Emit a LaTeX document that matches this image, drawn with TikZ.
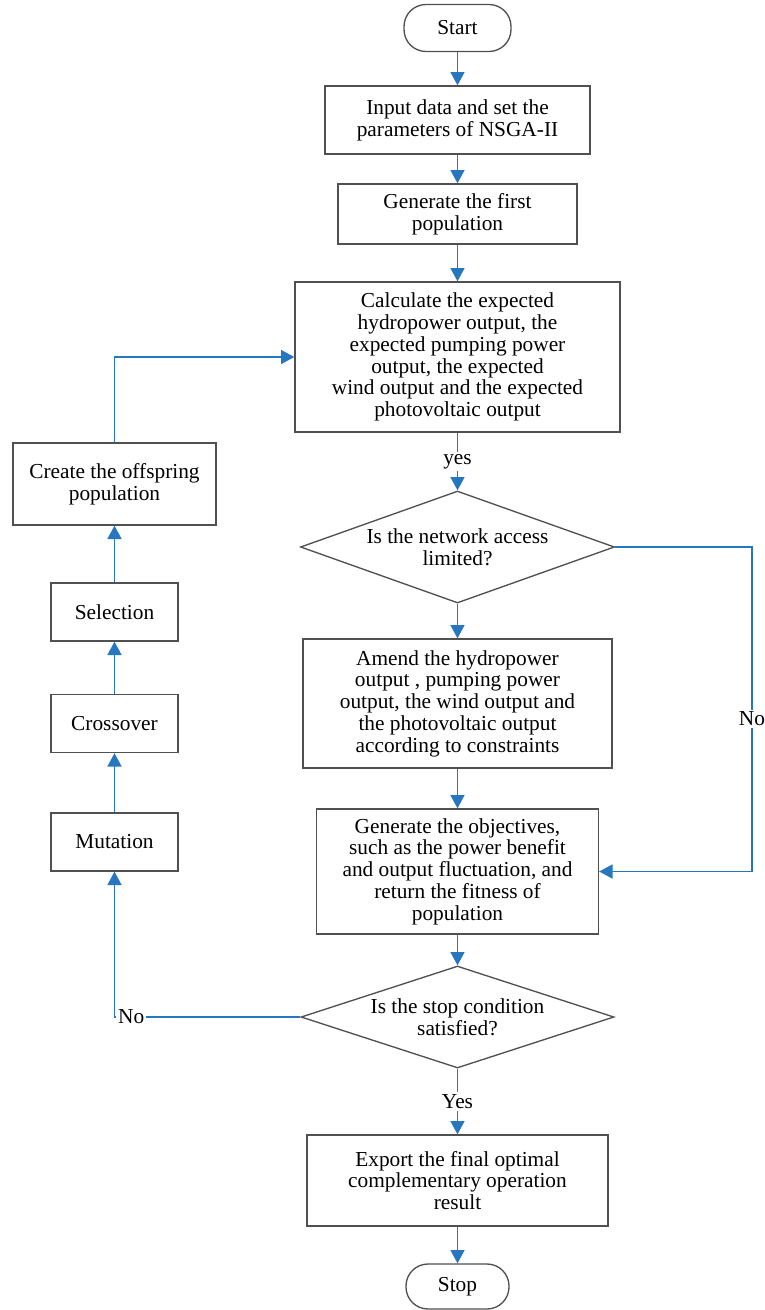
\documentclass[tikz,border=0pt]{standalone}
\usepackage{fontspec}
\setmainfont{Liberation Serif}
\usetikzlibrary{shapes.geometric,arrows.meta}
\definecolor{flowblue}{RGB}{38,118,192}
\definecolor{boxgray}{RGB}{80,80,80}

\begin{document}
\begin{tikzpicture}[x=0.75pt,y=0.75pt,yscale=-1,xscale=1,
  font=\fontsize{16}{16.3}\selectfont,
  box/.style={draw=boxgray,line width=1pt,rectangle,align=center,inner sep=1pt},
  term/.style={box,rounded corners=16.5pt},
  decision/.style={draw=boxgray,line width=1pt,diamond,aspect=2.8,align=center,inner sep=0pt},
  flow/.style={draw=flowblue,line width=1.1pt,-{Triangle[length=10pt,width=10.5pt]}},
  lbl/.style={fill=white,inner sep=1.5pt}]
\useasboundingbox (0,0) rectangle (764,1310);

%Main column
\node[term,minimum width=80.25pt,minimum height=35.25pt] (start) at (457.5,28) {Start};
\node[box,minimum width=198.75pt,minimum height=51pt] (input) at (457.5,120) {Input data and set the\\parameters of NSGA-II};
\node[box,minimum width=179.25pt,minimum height=45pt] (first) at (457.5,214) {Generate the first\\population};
\node[box,minimum width=243.75pt,minimum height=112.5pt] (calc) at (457.5,357) {Calculate the expected\\hydropower output, the\\expected pumping power\\output, the expected\\wind output and the expected\\photovoltaic output};
\node[decision,minimum width=235.5pt,minimum height=84pt] (access) at (457.5,547) {Is the network access\\limited?};
\node[box,minimum width=231.75pt,minimum height=96.75pt] (amend) at (457.5,703.5) {Amend the hydropower\\output , pumping power\\output, the wind output and\\the photovoltaic output\\according to constraints};
\node[box,minimum width=211.5pt,minimum height=93.75pt] (objective) at (457.5,871.5) {Generate the objectives,\\such as the power benefit\\and output fluctuation, and\\return the fitness of\\population};
\node[decision,minimum width=234.75pt,minimum height=76.5pt] (stopcond) at (457.5,1017) {Is the stop condition\\satisfied?};
\node[box,minimum width=225.75pt,minimum height=68.25pt] (export) at (457.5,1180.5) {Export the final optimal\\complementary operation\\result};
\node[term,minimum width=77.25pt,minimum height=33.75pt] (stop) at (457.5,1286.5) {Stop};

%Left column
\node[box,minimum width=152.25pt,minimum height=61.5pt] (offspring) at (114.5,484) {Create the offspring\\population};
\node[box,minimum width=95.25pt,minimum height=43.5pt] (selection) at (114.5,612) {Selection};
\node[box,minimum width=95.25pt,minimum height=43.5pt] (crossover) at (114.5,723.5) {Crossover};
\node[box,minimum width=95.25pt,minimum height=43.5pt] (mutation) at (114.5,842) {Mutation};

\coordinate (rightturn) at (752,547);

%Arrows
\draw[flow] (start) -- (input);
\draw[flow] (input) -- (first);
\draw[flow] (first) -- (calc);
\draw[flow] (calc) -- node[lbl]{yes} (access);
\draw[flow] (access) -- (amend);
\draw[flow] (amend) -- (objective);
\draw[flow] (objective) -- (stopcond);
\draw[flow] (stopcond) -- node[lbl]{Yes} (export);
\draw[flow] (export) -- (stop);
\draw[flow] (access.east) -- (rightturn) |- node[lbl,pos=0.265]{No} (objective.east);
\draw[flow] (stopcond.west) -| node[lbl,pos=0.455]{No} (mutation.south);
\draw[flow] (mutation) -- (crossover);
\draw[flow] (crossover) -- (selection);
\draw[flow] (selection) -- (offspring);
\draw[flow] (offspring.north) |- (calc.west);

\end{tikzpicture}
\end{document}
